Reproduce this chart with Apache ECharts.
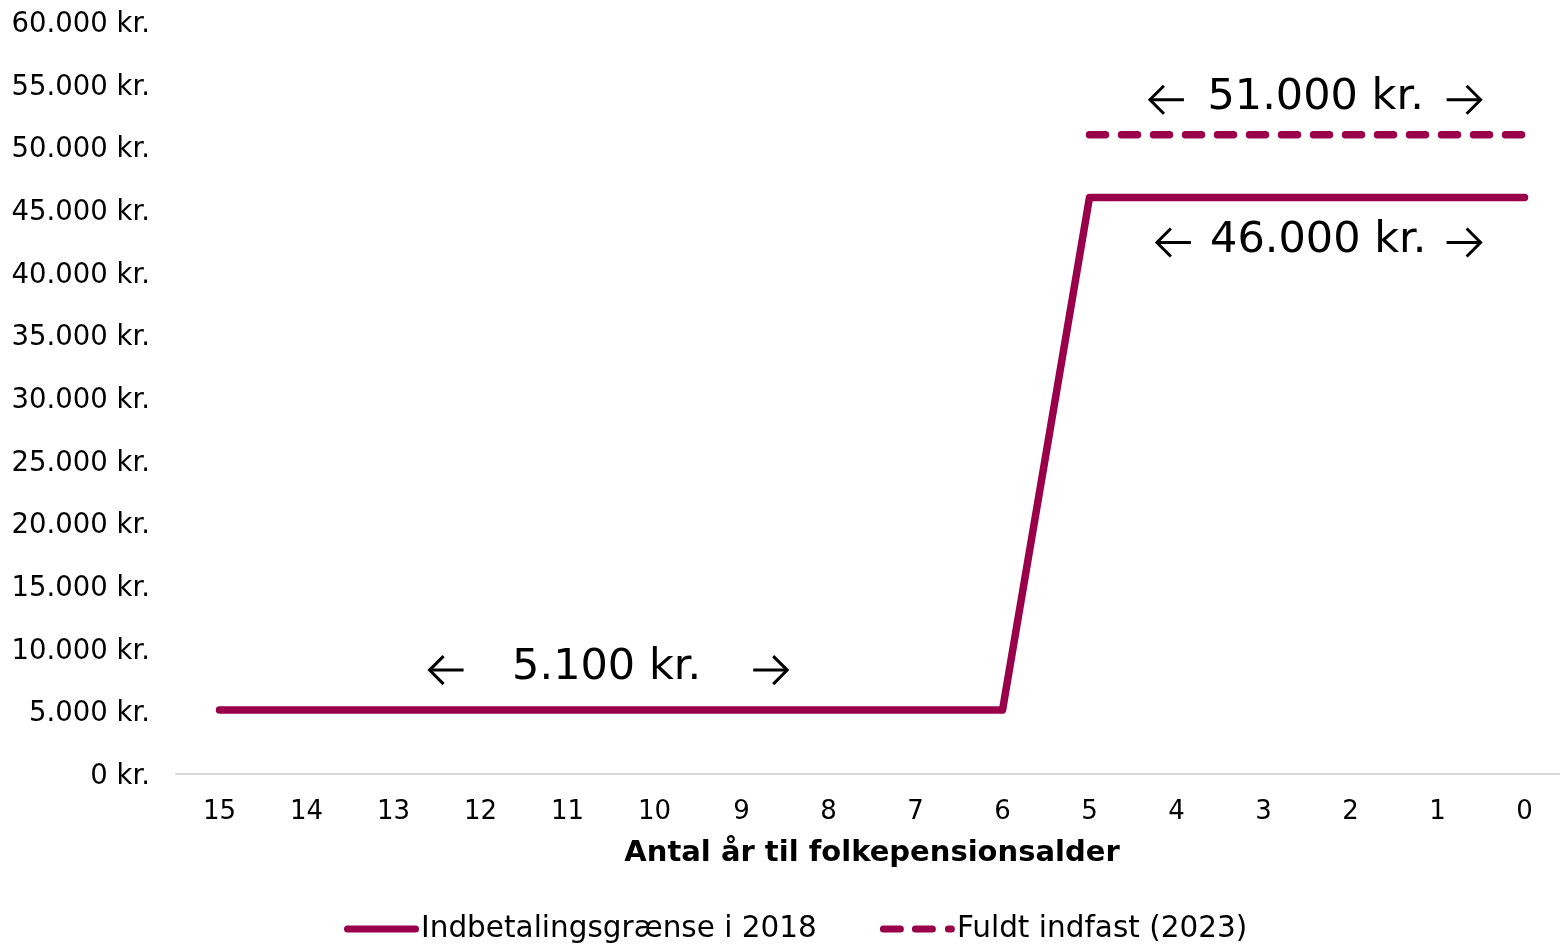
<!DOCTYPE html>
<html><head><meta charset="utf-8">
<script src="https://cdn.jsdelivr.net/npm/echarts@6/dist/echarts.min.js"></script>
<style>html,body{margin:0;padding:0;background:#fff}#c{width:1560px;height:945px}</style>
</head><body><div id="c"></div>
<script>
const categories = ['15','14','13','12','11','10','9','8','7','6','5','4','3','2','1','0'];
const limit2018 = [5100,5100,5100,5100,5100,5100,5100,5100,5100,5100,46000,46000,46000,46000,46000,46000];
const fullyPhased = [null,null,null,null,null,null,null,null,null,null,51000,51000,51000,51000,51000,51000];
const seriesNames = ['Indbetalingsgrænse i 2018','Fuldt indfast (2023)'];
const xAxisTitle = 'Antal år til folkepensionsalder';
// annotation texts; pos = position along the category axis (index units), value = data value
const annotationTexts = ['5.100 kr.','51.000 kr.','46.000 kr.'];
const annotationValues = [5100, 51000, 46000];
const annotationTextPos = [4.45, 12.6, 12.63];
const annotationLeftArrowPos = [2.61, 10.89, 10.97];
const annotationRightArrowPos = [6.33, 14.3, 14.3];
const annotationDy = [-42, -37, 43];

const COLOR = '#990049';
const FONT = 'DejaVu Sans, Verdana, sans-serif';
function fmt(v){ return '{v|' + String(v).replace(/\B(?=(\d{3})+(?!\d))/g,'.') + ' kr.}'; }

const chart = echarts.init(document.getElementById('c'), null, {renderer:'canvas'});
chart.setOption({
  animation:false,
  grid:{left:176, width:1392, top:22, bottom:171, containLabel:false, outerBoundsMode:'none'},
  xAxis:{
    type:'category', data:categories, boundaryGap:true,
    axisLine:{show:true, lineStyle:{color:'#d9d9d9', width:2}},
    axisTick:{show:false},
    axisLabel:{color:'#000', fontFamily:FONT, fontSize:26, margin:25},
    name:xAxisTitle, nameLocation:'middle', nameGap:65,
    nameTextStyle:{color:'#000', fontFamily:FONT, fontSize:29, fontWeight:'bold', verticalAlign:'top'}
  },
  yAxis:{
    type:'value', min:0, max:60000, interval:5000,
    splitLine:{show:false}, axisLine:{show:false}, axisTick:{show:false},
    axisLabel:{color:'#000', fontFamily:FONT, fontSize:27.5, margin:26, formatter:fmt,
      rich:{v:{color:'#000', fontFamily:FONT, fontSize:27.5, padding:[6,0,0,0]}}}
  },
  legend:{
    top:909, left:339, itemWidth:75, itemHeight:7, itemGap:63,
    textStyle:{color:'#000', fontFamily:FONT, fontSize:29.5, padding:[0,0,0,-3]},
    data:[
      {name:seriesNames[0], icon:'path://M3.5,0 H71.5 A3.5,3.5 0 0 1 71.5,7 H3.5 A3.5,3.5 0 0 1 3.5,0 Z'},
      {name:seriesNames[1], icon:'path://M3.5,0 H20.5 A3.5,3.5 0 0 1 20.5,7 H3.5 A3.5,3.5 0 0 1 3.5,0 Z M35.5,0 H52.5 A3.5,3.5 0 0 1 52.5,7 H35.5 A3.5,3.5 0 0 1 35.5,0 Z M68.5,0 H71.5 A3.5,3.5 0 0 1 71.5,7 H68.5 A3.5,3.5 0 0 1 68.5,0 Z'}
    ]
  },
  series:[
    {name:seriesNames[0], type:'line', data:limit2018, symbol:'none', showSymbol:false,
     lineStyle:{color:COLOR, width:7.5, cap:'round', join:'round'}, itemStyle:{color:COLOR}},
    {name:seriesNames[1], type:'line', data:fullyPhased, symbol:'none', showSymbol:false,
     lineStyle:{color:COLOR, width:7.5, type:[16,16], cap:'round'}, itemStyle:{color:COLOR}}
  ]
});
function px(pos, value){
  const i0 = Math.floor(pos), i1 = Math.min(i0+1, categories.length-1);
  const a = chart.convertToPixel({gridIndex:0},[categories[i0], value]);
  const b = chart.convertToPixel({gridIndex:0},[categories[i1], value]);
  const t = pos - i0;
  return [a[0] + (b[0]-a[0])*t, a[1]];
}
function arrow(cx, cy, dir){
  const h = 17, head = 14;
  const tip = cx + dir*h, tail = cx - dir*h;
  return [
    {type:'polyline', shape:{points:[[tail,cy],[tip,cy]]}, style:{stroke:'#000', lineWidth:3, fill:null}},
    {type:'polyline', shape:{points:[[tip - dir*head, cy-head],[tip,cy],[tip - dir*head, cy+head]]},
     style:{stroke:'#000', lineWidth:3, fill:null, lineJoin:'miter'}}
  ];
}
const g = [];
annotationTexts.forEach((txt,k)=>{
  const v = annotationValues[k], dy = annotationDy[k];
  const pt = px(annotationTextPos[k], v);
  g.push({type:'text', x:pt[0], y:pt[1]+dy,
    style:{text:txt, fill:'#000', font:'43px '+FONT, textAlign:'center', textVerticalAlign:'middle'}});
  const pl = px(annotationLeftArrowPos[k], v);
  const pr = px(annotationRightArrowPos[k], v);
  g.push(...arrow(pl[0], pl[1]+dy+2, -1));
  g.push(...arrow(pr[0], pr[1]+dy+2, 1));
});
chart.setOption({graphic:g});
</script></body></html>
